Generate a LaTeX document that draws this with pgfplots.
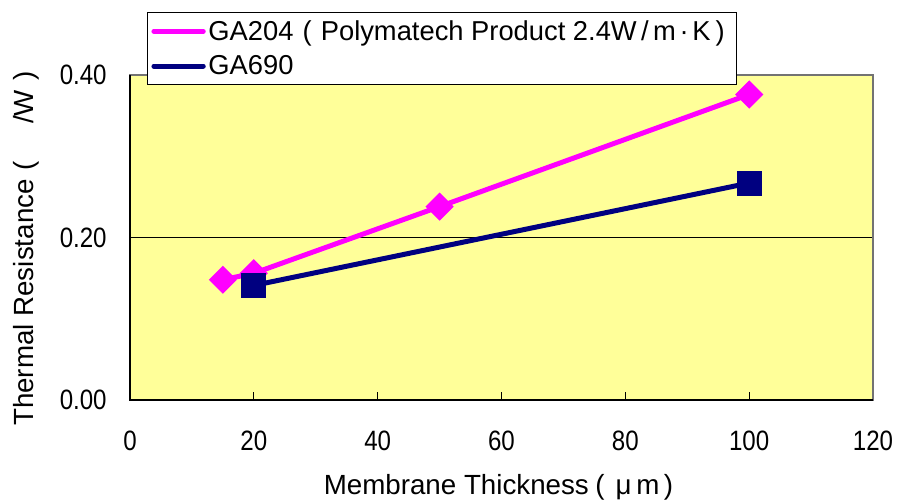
\documentclass[border=0pt]{standalone}
\usepackage{fontspec}
\setmainfont{Liberation Sans}
\newfontfamily\condensed{Liberation Sans}[FakeStretch=0.86]
\usepackage{pgfplots}
\pgfplotsset{compat=1.18}
\definecolor{plotbg}{HTML}{FFFF99}
\definecolor{ga204}{HTML}{FF00FF}
\definecolor{ga690}{HTML}{000080}
\newcommand{\fw}[1]{\makebox[1em][c]{#1}}
\newcommand{\hw}[1]{\makebox[0.6em][c]{#1}}
\begin{document}
\begin{tikzpicture}[x=0.75pt,y=0.75pt]
\useasboundingbox (0,0) rectangle (897,502);
\begin{axis}[
  at={(97.5pt,76.5pt)}, anchor=south west,
  scale only axis,
  width=557.25pt, height=243.75pt,
  xmin=0, xmax=120, ymin=0, ymax=0.4,
  xtick={0,20,...,120}, ytick={0,0.2,0.4},
  axis background/.style={fill=plotbg},
  axis line style={draw=gray!90!black, line width=1pt},
  ymajorgrids, grid style={black, line width=0.6pt},
  tick align=inside, xtick pos=bottom, ytick pos=left,
  major tick length=6pt,
  ytick style={draw=none},
  xtick style={black, line width=0.6pt},
  tick label style={font=\condensed\fontsize{21}{24}\selectfont},
  /pgf/number format/assume math mode=true,
  yticklabel style={xshift=-14pt, /pgf/number format/fixed, /pgf/number format/fixed zerofill, /pgf/number format/precision=2},
  xticklabel style={yshift=-20pt},
  xlabel={Membrane Thickness\makebox[0.8em][c]{(}\,μ\,m\,)},
  ylabel={Thermal Resistance\fw{(}\hspace{1em}/W\fw{)}},
  label style={font=\fontsize{20.8}{24}\selectfont},
  xlabel style={at={(axis description cs:0.496,-0.27)}, anchor=center},
  ylabel style={at={(axis description cs:-0.14,0.48)}, anchor=center},
  legend style={at={(axis description cs:0.0229,1.1938)}, anchor=north west,
    draw=black, line width=0.6pt, fill=white, font=\fontsize{20.5}{24}\selectfont,
    inner xsep=3pt, inner ysep=5pt, row sep=8pt, cells={anchor=west},
    nodes={inner xsep=2pt, inner ysep=1pt}},
  legend image code/.code={\draw[#1, line width=3.75pt, line cap=round] (3pt,0pt) -- (40pt,0pt);},
  clip=false,
]
\addplot[ga204, line width=3.75pt, mark=square*, mark size=5.6pt,
  mark options={rotate=45, solid}] coordinates {(15,0.148) (20,0.156) (50,0.238) (100,0.376)};
\addlegendentry{GA204\fw{(}Polymatech Product 2.4W\hw{/}m\hw{·}K\makebox[0.7em][c]{)}}
\addplot[ga690, line width=3.75pt, mark=square*, mark size=7.5pt] coordinates {(20,0.141) (100,0.267)};
\addlegendentry{GA690}
\draw[black, line width=1pt] (axis cs:0,0.4) -- (axis cs:0,0) -- (axis cs:120,0);
\end{axis}
\end{tikzpicture}
\end{document}
